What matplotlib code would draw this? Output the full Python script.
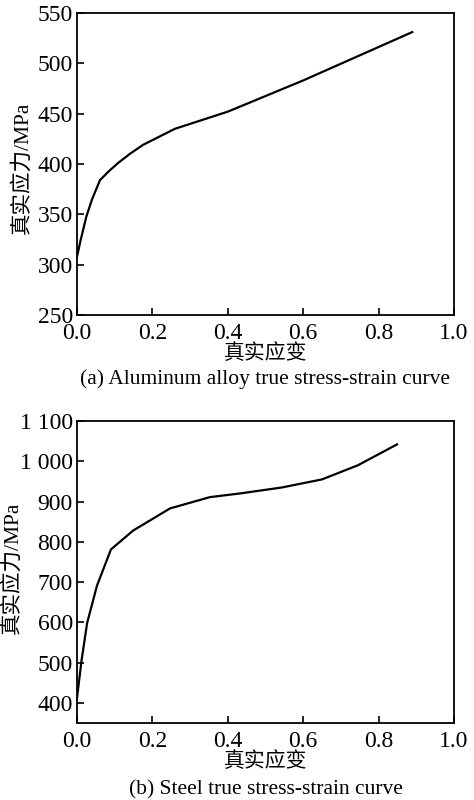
import matplotlib
matplotlib.use("Agg")
import matplotlib.pyplot as plt

plt.rcParams['font.family'] = ['Liberation Serif', 'Noto Sans CJK SC']

# (a) aluminum alloy
al_strain = [0.0, 0.01, 0.025, 0.04, 0.061, 0.085, 0.109, 0.14, 0.175, 0.26, 0.4, 0.6, 0.889]
al_stress = [308, 325, 348, 365, 384, 393, 401, 410, 419, 435, 452, 483, 531]
al_yticks = [250, 300, 350, 400, 450, 500, 550]

# (b) steel
st_strain = [0.0, 0.012, 0.027, 0.053, 0.09, 0.149, 0.247, 0.353, 0.432, 0.544, 0.65, 0.745, 0.849]
st_stress = [412, 505, 599, 691, 781, 828, 883, 911, 920, 935, 955, 990, 1042]
st_yticks = [400, 500, 600, 700, 800, 900, 1000, 1100]
st_yticklabels = ['400', '500', '600', '700', '800', '900', '1 000', '1 100']

xticks = [0.0, 0.2, 0.4, 0.6, 0.8, 1.0]

fig = plt.figure(figsize=(4.74, 8.0), dpi=100)
W, H = 474, 800
ax1 = fig.add_axes([77 / W, 1 - 315 / H, (454 - 77) / W, (315 - 13) / H])
ax2 = fig.add_axes([77 / W, 1 - 723 / H, (454 - 77) / W, (723 - 421) / H])


def style(ax):
    ax.set_xlim(0, 1.0)
    ax.set_xticks(xticks)
    ax.set_xticklabels(['%.1f' % t for t in xticks])
    for s in ax.spines.values():
        s.set_linewidth(1.3)
    ax.tick_params(direction='in', length=5, width=1.2, labelsize=17,
                   top=False, right=False)
    ax.tick_params(axis='x', pad=6)
    ax.tick_params(axis='y', pad=3)


ax1.plot(al_strain, al_stress, color='black', lw=1.6)
style(ax1)
ax1.set_ylim(250, 550)
ax1.set_yticks(al_yticks)
ax1.set_ylabel('真实应力/MPa', fontsize=15.5)
ax1.yaxis.set_label_coords(-0.117, 0.487)
ax1.set_xlabel('真实应变', fontsize=15, labelpad=0)
ax1.text(0.5, -0.212, '(a) Aluminum alloy true stress-strain curve',
         transform=ax1.transAxes, ha='center', va='center', fontsize=15.5)

ax2.plot(st_strain, st_stress, color='black', lw=1.6)
style(ax2)
ax2.set_ylim(350, 1100)
ax2.set_yticks(st_yticks)
ax2.set_yticklabels(st_yticklabels)
ax2.set_ylabel('真实应力/MPa', fontsize=15.5)
ax2.yaxis.set_label_coords(-0.145, 0.513)
ax2.set_xlabel('真实应变', fontsize=15, labelpad=0)
ax2.text(0.5, -0.22, '(b) Steel true stress-strain curve',
         transform=ax2.transAxes, ha='center', va='center', fontsize=15.5)

fig.savefig('out.png', dpi=100)
